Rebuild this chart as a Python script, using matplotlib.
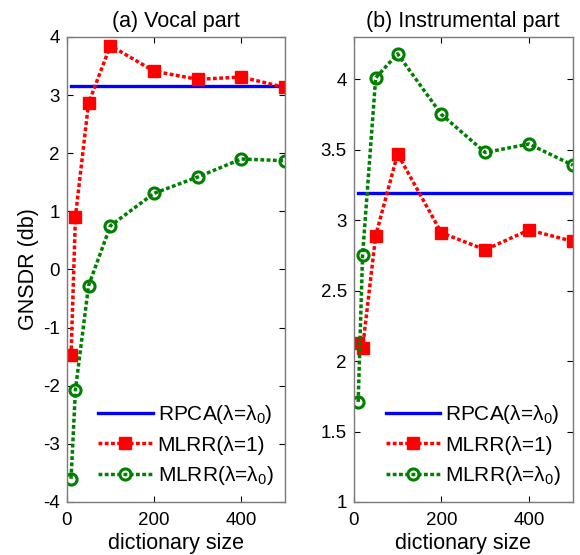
import numpy as np
import matplotlib
matplotlib.use('Agg')
import matplotlib.pyplot as plt
import matplotlib.ticker as mticker

plt.rcParams['font.family'] = ['Liberation Sans', 'DejaVu Sans']
plt.rcParams['mathtext.default'] = 'regular'

# dictionary sizes
dict_size = [10, 20, 50, 100, 200, 300, 400, 500]

# (a) vocal part
vocal_rpca = 3.16
vocal_mlrr_1 = [-1.48, 0.91, 2.86, 3.85, 3.41, 3.27, 3.31, 3.13]
vocal_mlrr_l0 = [-3.6, -2.07, -0.28, 0.75, 1.31, 1.59, 1.90, 1.87]

# (b) instrumental part
inst_rpca = 3.19
inst_mlrr_1 = [2.13, 2.09, 2.89, 3.47, 2.91, 2.79, 2.93, 2.85]
inst_mlrr_l0 = [1.71, 2.75, 4.01, 4.18, 3.75, 3.48, 3.54, 3.39]

titles = ['(a) Vocal part', '(b) Instrumental part']
labels = ['RPCA(λ=λ$_0$)', 'MLRR(λ=1)', 'MLRR(λ=λ$_0$)']

fig = plt.figure(figsize=(5.8, 5.55), dpi=100)
ax1 = fig.add_axes([0.115, 0.0955, 0.3765, 0.838])
ax2 = fig.add_axes([0.610, 0.0955, 0.3775, 0.838])

dots = (0, (1.1, 0.7))

def draw(ax, rpca, m1, m0, title, ylim, yticks):
    ax.plot([dict_size[0], dict_size[-1]], [rpca, rpca], '-', color='#0000ff', lw=2.4, label=labels[0])
    ax.plot(dict_size, m1, linestyle=dots, color='#ff0000', lw=2.5, marker='s',
            markersize=8.5, mfc='#ff0000', mec='#ff0000', label=labels[1])
    ax.plot(dict_size, m0, linestyle=dots, color='#008000', lw=2.5, marker='o',
            markersize=8, mfc='none', mec='#008000', mew=2.2, label=labels[2])
    ax.set_xlim(0, 500)
    ax.set_ylim(*ylim)
    ax.set_xticks([0, 200, 400])
    ax.set_yticks(yticks)
    ax.yaxis.set_major_formatter(mticker.FormatStrFormatter('%g'))
    ax.tick_params(direction='in', length=4, width=0.8, top=True, right=True,
                   labelsize=13.5, pad=5)
    ax.tick_params(axis='x', pad=7)
    for s in ax.spines.values():
        s.set_color('#7a7a7a')
        s.set_linewidth(1.0)
    ax.set_title(title, fontsize=15.5, pad=7)
    ax.set_xlabel('dictionary size', fontsize=15.5, labelpad=3)
    ax.legend(loc='upper left', bbox_to_anchor=(0.145, 0.212), frameon=False,
              fontsize=15, handlelength=2.6, handletextpad=0.25,
              labelspacing=0.45, borderpad=0, borderaxespad=0)

draw(ax1, vocal_rpca, vocal_mlrr_1, vocal_mlrr_l0, titles[0], (-4, 4), range(-4, 5))
draw(ax2, inst_rpca, inst_mlrr_1, inst_mlrr_l0, titles[1], (1, 4.3),
     [1, 1.5, 2, 2.5, 3, 3.5, 4])
ax1.set_ylabel('GNSDR (db)', fontsize=15.5, labelpad=3)

fig.savefig('out.png', dpi=100)
